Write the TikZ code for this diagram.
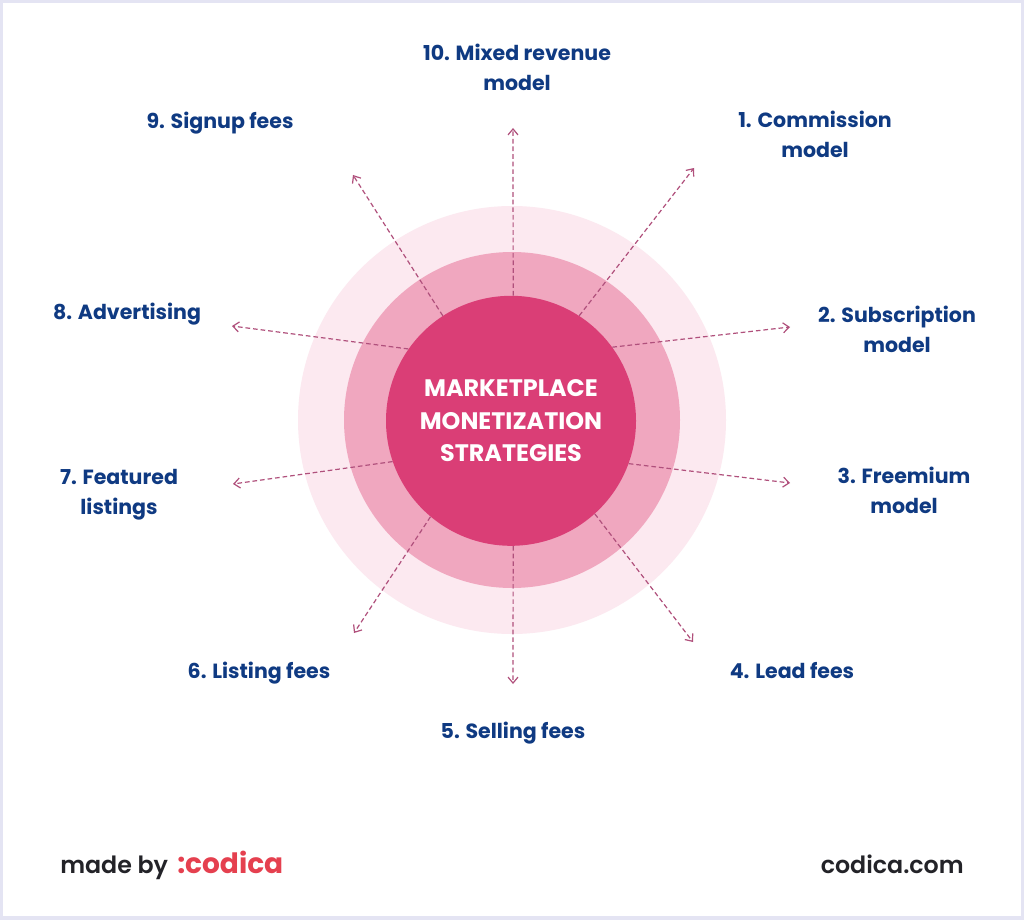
\documentclass[tikz,border=0pt]{standalone}
\usepackage{fontspec}
\setmainfont{Poppins}
\newfontfamily\poppinssemi{Poppins SemiBold}
\newfontfamily\poppinsbold{Poppins Bold}
\usepackage{tikz}
\usetikzlibrary{arrows.meta}
\definecolor{framecol}{HTML}{E4E4F3}
\definecolor{navycol}{HTML}{0F3A82}
\definecolor{hubcol}{HTML}{DA3E76}
\definecolor{midcol}{HTML}{F0A7BF}
\definecolor{outercol}{HTML}{FCE9F0}
\definecolor{arrowcol}{HTML}{B0507C}
\definecolor{inkcol}{HTML}{232328}
\definecolor{brandcol}{HTML}{E5404F}

\begin{document}
\begin{tikzpicture}[
    x=0.75pt, y=-0.75pt,
    every node/.style={align=center},
    lbl/.style={font=\fontsize{15.4pt}{22.5pt}\selectfont\poppinsbold, text=navycol, inner sep=0pt},
    ring/.style={circle, inner sep=0pt},
    arr/.style={-{Straight Barb[length=4.5pt,width=7.5pt]}, line width=0.9pt, arrowcol, dash pattern=on 3.5pt off 2.2pt},
    foot/.style={font=\fontsize{17.8pt}{22pt}\selectfont\poppinssemi, text=inkcol, inner sep=0pt}
]
\useasboundingbox (0, 0) rectangle (1024, 920);
% Frame
\fill[framecol] (0, 0) rectangle (1024, 920);
\fill[white] (3, 3) rectangle (1021, 916);

% Rings
\node[ring, fill=outercol, minimum size=321pt] (outer) at (512, 420) {};
\node[ring, fill=midcol, minimum size=252pt] (mid) at (512, 420) {};
\node[ring, fill=hubcol, minimum size=187.5pt, text=white, font=\fontsize{17.9pt}{24.2pt}\selectfont\poppinsbold] (hub) at (511, 420.8) {MARKETPLACE\\MONETIZATION\\STRATEGIES};

% Labels
\node[lbl] (commission) at (815, 134) {1. Commission\\model};
\node[lbl] (subscription) at (897, 329) {2. Subscription\\model};
\node[lbl] (freemium) at (904, 490) {3. Freemium\\model};
\node[lbl] (lead) at (792, 671) {4. Lead fees};
\node[lbl] (selling) at (513, 733) {5. Selling fees};
\node[lbl] (listing) at (259, 673) {6. Listing fees};
\node[lbl] (featured) at (119, 495) {7. Featured\\listings};
\node[lbl] (advertising) at (127, 314) {8. Advertising};
\node[lbl] (signup) at (220, 123) {9. Signup fees};
\node[lbl] (mixed) at (517, 67.5) {10. Mixed revenue\\model};

% Arrow ends
\coordinate (commissionend) at (694, 168);
\coordinate (subscriptionend) at (790, 327);
\coordinate (freemiumend) at (790, 483);
\coordinate (leadend) at (693, 642);
\coordinate (sellingend) at (513, 684);
\coordinate (listingend) at (354, 633);
\coordinate (featuredend) at (233, 484);
\coordinate (advertisingend) at (232, 326);
\coordinate (signupend) at (353, 175);
\coordinate (mixedend) at (513, 128);

% Arrows
\draw[arr] (hub.57) -- (commissionend);
\draw[arr] (hub.36) -- (subscriptionend);
\draw[arr] (hub.-20) -- (freemiumend);
\draw[arr] (hub.-48) -- (leadend);
\draw[arr] (hub.-89) -- (sellingend);
\draw[arr] (hub.-130) -- (listingend);
\draw[arr] (hub.-161) -- (featuredend);
\draw[arr] (hub.145) -- (advertisingend);
\draw[arr] (hub.123) -- (signupend);
\draw[arr] (hub.89) -- (mixedend);

% Footer
\node[foot, anchor=base west] (madeby) at (60, 873) {made by};
\node[foot, anchor=base west, text=brandcol, font=\fontsize{21pt}{24pt}\selectfont\poppinsbold] (codica) at (177, 873) {:codica};
\node[foot, anchor=base east] (site) at (964, 873) {codica.com};
\end{tikzpicture}
\end{document}
